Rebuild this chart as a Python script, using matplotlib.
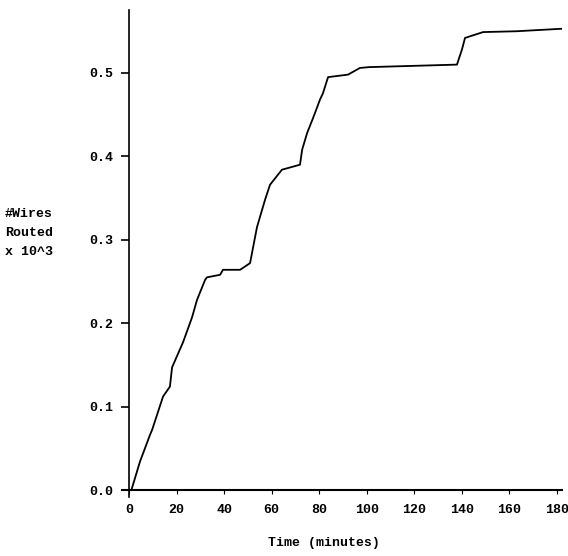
import numpy as np
import matplotlib
matplotlib.use("Agg")
import matplotlib.pyplot as plt

# wires routed (x 10^3) against time in minutes
time_min = [1.0, 4.6, 8.8, 9.7, 14.3, 17.2, 18.1, 22.7, 26.5, 28.6, 32.0, 32.8,
            38.3, 39.5, 46.7, 50.9, 53.8, 57.2, 59.3, 64.3, 71.9, 72.8, 74.9,
            77.4, 78.2, 80.3, 81.6, 83.7, 92.1, 97.1, 101.0, 137.9, 140.0,
            141.3, 148.9, 163.0, 182.0]
wires = [0.0, 0.034, 0.066, 0.072, 0.112, 0.124, 0.147, 0.177, 0.207, 0.228,
         0.252, 0.255, 0.258, 0.264, 0.264, 0.272, 0.315, 0.348, 0.366, 0.384,
         0.390, 0.408, 0.428, 0.446, 0.452, 0.468, 0.476, 0.495, 0.498, 0.506,
         0.507, 0.510, 0.528, 0.542, 0.549, 0.550, 0.553]

xticks = [0, 20, 40, 60, 80, 100, 120, 140, 160, 180]
yticks = [0.0, 0.1, 0.2, 0.3, 0.4, 0.5]

mono = 'Liberation Mono'

fig = plt.figure(figsize=(5.68, 5.56), dpi=100)
ax = fig.add_axes([0.2146, 0.1067, 0.7745, 0.8746])

ax.plot(time_min, wires, color='black', lw=1.3)

ax.set_xlim(-3, 182)
ax.set_ylim(-0.008, 0.575)
ax.spines['left'].set_position(('data', 0))
ax.spines['bottom'].set_position(('data', 0))
ax.spines['top'].set_visible(False)
ax.spines['right'].set_visible(False)
ax.spines['left'].set_linewidth(1.2)
ax.spines['bottom'].set_linewidth(1.5)

ax.set_xticks(xticks)
ax.set_xticklabels([str(t) for t in xticks])
ax.set_yticks(yticks)
ax.set_yticklabels(['%.1f' % v for v in yticks])
ax.tick_params(axis='y', direction='out', length=6, width=1.2, pad=5)
ax.tick_params(axis='x', direction='out', length=3, width=0.8, pad=7)
for lab in ax.get_xticklabels() + ax.get_yticklabels():
    lab.set_family(mono)
    lab.set_fontweight('bold')
    lab.set_fontsize(9.5)

fig.text(0.57, 0.024, 'Time (minutes)', family=mono, fontweight='bold',
         fontsize=9.5, ha='center', va='center')
fig.text(0.009, 0.581, '#Wires\nRouted\nx 10^3', family=mono,
         fontweight='bold', fontsize=9.5, ha='left', va='center',
         linespacing=1.75)

fig.savefig('out.png', dpi=100)
